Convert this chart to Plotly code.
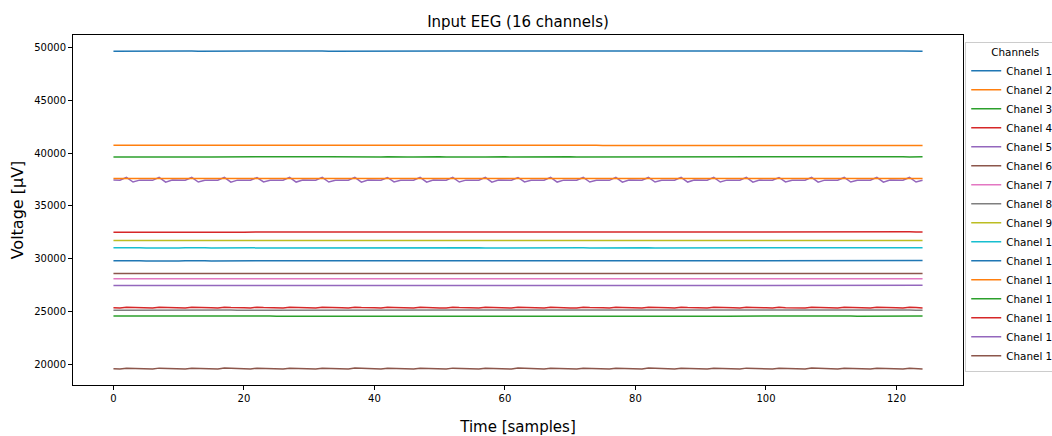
import plotly.graph_objects as go

# ---- data: 16 EEG channels, 125 samples each (µV) ----
ch1 = [49615, 49620, 49626, 49618, 49612, 49620, 49628, 49622, 49614, 49618,
       49625, 49630, 49622, 49616, 49620, 49627, 49632, 49624, 49618, 49622,
       49628, 49634, 49626, 49619, 49623, 49630, 49636, 49628, 49620, 49624,
       49631, 49637, 49629, 49621, 49625, 49632, 49638, 49630, 49622, 49626,
       49633, 49640, 49632, 49624, 49628, 49635, 49641, 49633, 49625, 49629,
       49636, 49642, 49634, 49626, 49630, 49636, 49642, 49634, 49626, 49630,
       49636, 49641, 49633, 49625, 49629, 49635, 49640, 49632, 49624, 49628,
       49634, 49639, 49631, 49623, 49627, 49633, 49638, 49630, 49622, 49626,
       49632, 49637, 49629, 49621, 49625, 49631, 49636, 49628, 49620, 49624,
       49630, 49635, 49627, 49619, 49623, 49629, 49634, 49626, 49618, 49622,
       49628, 49633, 49625, 49617, 49621, 49627, 49632, 49624, 49616, 49620,
       49626, 49631, 49623, 49615, 49619, 49625, 49630, 49622, 49614, 49618,
       49624, 49629, 49621, 49613, 49617]
ch2 = [40745, 40742, 40738, 40741, 40746, 40743, 40739, 40742, 40747, 40744,
       40740, 40737, 40741, 40745, 40742, 40738, 40740, 40744, 40741, 40737,
       40739, 40743, 40740, 40736, 40738, 40742, 40739, 40735, 40737, 40741,
       40738, 40734, 40736, 40740, 40737, 40733, 40735, 40739, 40736, 40732,
       40734, 40738, 40735, 40731, 40733, 40737, 40734, 40730, 40732, 40736,
       40733, 40729, 40731, 40735, 40732, 40728, 40730, 40734, 40731, 40727,
       40729, 40733, 40730, 40726, 40728, 40732, 40729, 40725, 40727, 40731,
       40728, 40724, 40726, 40730, 40727, 40723, 40725, 40729, 40726, 40722,
       40724, 40728, 40725, 40721, 40723, 40727, 40724, 40720, 40722, 40726,
       40723, 40719, 40721, 40725, 40722, 40718, 40720, 40724, 40721, 40717,
       40719, 40723, 40720, 40716, 40718, 40722, 40719, 40715, 40717, 40721,
       40718, 40714, 40716, 40720, 40717, 40713, 40715, 40719, 40716, 40712,
       40714, 40718, 40715, 40711, 40713]
ch3 = [39630, 39645, 39660, 39650, 39632, 39625, 39640, 39658, 39652, 39635,
       39622, 39638, 39656, 39654, 39637, 39624, 39636, 39655, 39657, 39640,
       39626, 39634, 39652, 39658, 39643, 39628, 39632, 39650, 39660, 39646,
       39630, 39630, 39648, 39660, 39648, 39632, 39628, 39645, 39659, 39650,
       39634, 39627, 39642, 39658, 39652, 39636, 39626, 39640, 39657, 39654,
       39638, 39625, 39638, 39655, 39656, 39640, 39625, 39636, 39653, 39657,
       39642, 39626, 39634, 39651, 39658, 39644, 39627, 39632, 39649, 39659,
       39646, 39629, 39630, 39647, 39659, 39648, 39631, 39629, 39645, 39658,
       39650, 39633, 39628, 39643, 39657, 39651, 39635, 39627, 39641, 39656,
       39653, 39637, 39626, 39639, 39655, 39654, 39639, 39625, 39637, 39653,
       39655, 39641, 39626, 39635, 39651, 39656, 39643, 39627, 39633, 39649,
       39657, 39645, 39628, 39631, 39647, 39658, 39647, 39630, 39630, 39645,
       39658, 39649, 39632, 39629, 39643]
ch4 = [32528, 32532, 32535, 32530, 32526, 32529, 32534, 32536, 32531, 32527,
       32530, 32535, 32537, 32532, 32528, 32531, 32536, 32538, 32533, 32529,
       32532, 32537, 32539, 32534, 32530, 32533, 32538, 32540, 32535, 32531,
       32534, 32539, 32541, 32536, 32532, 32535, 32540, 32542, 32537, 32533,
       32536, 32541, 32543, 32538, 32534, 32537, 32542, 32544, 32539, 32535,
       32538, 32543, 32545, 32540, 32536, 32539, 32544, 32546, 32541, 32537,
       32540, 32545, 32547, 32542, 32538, 32541, 32546, 32548, 32543, 32539,
       32542, 32547, 32549, 32544, 32540, 32543, 32548, 32550, 32545, 32541,
       32544, 32549, 32551, 32546, 32542, 32545, 32550, 32552, 32547, 32543,
       32546, 32551, 32553, 32548, 32544, 32547, 32552, 32554, 32549, 32545,
       32548, 32553, 32555, 32550, 32546, 32549, 32554, 32556, 32551, 32547,
       32550, 32555, 32557, 32552, 32548, 32551, 32556, 32558, 32553, 32549,
       32552, 32557, 32559, 32554, 32550]
ch5 = [37450, 37430, 37700, 37260, 37440, 37455, 37425, 37705, 37255, 37445,
       37448, 37432, 37695, 37262, 37438, 37452, 37428, 37710, 37250, 37442,
       37450, 37435, 37688, 37268, 37435, 37456, 37426, 37702, 37258, 37446,
       37449, 37431, 37697, 37264, 37439, 37453, 37429, 37708, 37252, 37443,
       37451, 37433, 37692, 37266, 37437, 37454, 37427, 37704, 37256, 37444,
       37448, 37430, 37699, 37261, 37440, 37455, 37426, 37707, 37254, 37445,
       37450, 37434, 37690, 37269, 37436, 37453, 37428, 37703, 37257, 37442,
       37449, 37431, 37696, 37263, 37438, 37454, 37425, 37709, 37251, 37446,
       37451, 37432, 37693, 37265, 37437, 37452, 37429, 37701, 37259, 37443,
       37448, 37433, 37698, 37260, 37441, 37456, 37427, 37706, 37253, 37444,
       37450, 37430, 37691, 37267, 37436, 37453, 37428, 37704, 37256, 37442,
       37449, 37432, 37695, 37262, 37439, 37455, 37426, 37708, 37252, 37445,
       37451, 37431, 37694, 37264, 37438]
ch6 = [28632, 28628, 28625, 28630, 28636, 28634, 28629, 28626, 28631, 28637,
       28635, 28630, 28627, 28632, 28638, 28636, 28631, 28627, 28630, 28636,
       28637, 28632, 28628, 28629, 28635, 28638, 28633, 28628, 28628, 28633,
       28638, 28635, 28629, 28627, 28632, 28637, 28636, 28630, 28627, 28631,
       28636, 28637, 28631, 28627, 28630, 28635, 28638, 28632, 28628, 28629,
       28634, 28638, 28633, 28628, 28628, 28633, 28637, 28634, 28629, 28627,
       28632, 28636, 28635, 28630, 28627, 28631, 28635, 28636, 28631, 28627,
       28630, 28634, 28637, 28632, 28628, 28629, 28633, 28637, 28633, 28628,
       28628, 28632, 28636, 28634, 28629, 28627, 28631, 28635, 28635, 28630,
       28627, 28630, 28634, 28636, 28631, 28627, 28629, 28633, 28637, 28632,
       28628, 28628, 28632, 28636, 28633, 28629, 28627, 28631, 28635, 28634,
       28630, 28627, 28630, 28634, 28635, 28631, 28627, 28629, 28633, 28636,
       28632, 28628, 28628, 28632, 28635]
ch7 = [28128, 28131, 28134, 28130, 28126, 28129, 28133, 28135, 28131, 28127,
       28128, 28132, 28135, 28132, 28128, 28127, 28131, 28134, 28133, 28129,
       28126, 28130, 28134, 28134, 28130, 28126, 28129, 28133, 28135, 28131,
       28127, 28128, 28132, 28135, 28132, 28128, 28127, 28131, 28134, 28133,
       28129, 28126, 28130, 28134, 28134, 28130, 28126, 28129, 28133, 28135,
       28131, 28127, 28128, 28132, 28135, 28132, 28128, 28127, 28131, 28134,
       28133, 28129, 28126, 28130, 28134, 28134, 28130, 28126, 28129, 28133,
       28135, 28131, 28127, 28128, 28132, 28135, 28132, 28128, 28127, 28131,
       28134, 28133, 28129, 28126, 28130, 28134, 28134, 28130, 28126, 28129,
       28133, 28135, 28131, 28127, 28128, 28132, 28135, 28132, 28128, 28127,
       28131, 28134, 28133, 28129, 28126, 28130, 28134, 28134, 28130, 28126,
       28129, 28133, 28135, 28131, 28127, 28128, 28132, 28135, 28132, 28128,
       28127, 28131, 28134, 28133, 28129]
ch8 = [25168, 25172, 25175, 25171, 25166, 25169, 25174, 25176, 25170, 25165,
       25168, 25173, 25176, 25172, 25167, 25167, 25172, 25175, 25173, 25168,
       25166, 25171, 25175, 25174, 25169, 25165, 25170, 25174, 25175, 25170,
       25166, 25169, 25173, 25176, 25171, 25166, 25168, 25173, 25176, 25172,
       25167, 25167, 25172, 25175, 25173, 25168, 25166, 25171, 25175, 25174,
       25169, 25165, 25170, 25174, 25175, 25170, 25166, 25169, 25173, 25176,
       25171, 25166, 25168, 25173, 25176, 25172, 25167, 25167, 25172, 25175,
       25173, 25168, 25166, 25171, 25175, 25174, 25169, 25165, 25170, 25174,
       25175, 25170, 25166, 25169, 25173, 25176, 25171, 25166, 25168, 25173,
       25176, 25172, 25167, 25167, 25172, 25175, 25173, 25168, 25166, 25171,
       25175, 25174, 25169, 25165, 25170, 25174, 25175, 25170, 25166, 25169,
       25173, 25176, 25171, 25166, 25168, 25173, 25176, 25172, 25167, 25167,
       25172, 25175, 25173, 25168, 25166]
ch9 = [31744, 31747, 31749, 31745, 31741, 31743, 31748, 31750, 31746, 31742,
       31743, 31747, 31750, 31747, 31743, 31742, 31746, 31749, 31748, 31744,
       31741, 31745, 31749, 31749, 31745, 31741, 31744, 31748, 31750, 31746,
       31742, 31743, 31747, 31750, 31747, 31743, 31742, 31746, 31749, 31748,
       31744, 31741, 31745, 31749, 31749, 31745, 31741, 31744, 31748, 31750,
       31746, 31742, 31743, 31747, 31750, 31747, 31743, 31742, 31746, 31749,
       31748, 31744, 31741, 31745, 31749, 31749, 31745, 31741, 31744, 31748,
       31750, 31746, 31742, 31743, 31747, 31750, 31747, 31743, 31742, 31746,
       31749, 31748, 31744, 31741, 31745, 31749, 31749, 31745, 31741, 31744,
       31748, 31750, 31746, 31742, 31743, 31747, 31750, 31747, 31743, 31742,
       31746, 31749, 31748, 31744, 31741, 31745, 31749, 31749, 31745, 31741,
       31744, 31748, 31750, 31746, 31742, 31743, 31747, 31750, 31747, 31743,
       31742, 31746, 31749, 31748, 31744]
ch10 = [31050, 31062, 31075, 31066, 31048, 31040, 31052, 31072, 31070, 31053,
        31041, 31047, 31068, 31074, 31058, 31043, 31044, 31063, 31076, 31063,
        31046, 31041, 31058, 31075, 31068, 31050, 31040, 31053, 31073, 31071,
        31054, 31041, 31048, 31069, 31074, 31058, 31043, 31045, 31064, 31076,
        31062, 31045, 31042, 31059, 31075, 31067, 31049, 31040, 31054, 31073,
        31071, 31053, 31041, 31049, 31070, 31074, 31057, 31042, 31045, 31065,
        31076, 31061, 31045, 31042, 31060, 31075, 31066, 31048, 31040, 31055,
        31074, 31070, 31052, 31041, 31050, 31071, 31073, 31056, 31042, 31046,
        31066, 31076, 31060, 31044, 31043, 31061, 31075, 31065, 31047, 31040,
        31056, 31074, 31069, 31051, 31040, 31051, 31072, 31073, 31055, 31042,
        31047, 31067, 31075, 31059, 31044, 31043, 31062, 31076, 31064, 31046,
        31041, 31057, 31075, 31068, 31050, 31040, 31052, 31072, 31072, 31054,
        31041, 31048, 31068, 31074, 31058]
ch11 = [29825, 29838, 29848, 29840, 29822, 29814, 29826, 29845, 29846, 29829,
        29815, 29820, 29841, 29849, 29834, 29817, 29817, 29836, 29850, 29840,
        29821, 29814, 29830, 29848, 29845, 29826, 29814, 29824, 29845, 29848,
        29831, 29816, 29819, 29840, 29850, 29836, 29818, 29816, 29834, 29850,
        29842, 29823, 29814, 29828, 29847, 29846, 29828, 29815, 29822, 29843,
        29849, 29833, 29816, 29818, 29838, 29850, 29838, 29819, 29815, 29832,
        29849, 29843, 29824, 29814, 29826, 29846, 29847, 29830, 29815, 29821,
        29842, 29849, 29835, 29817, 29817, 29837, 29850, 29839, 29820, 29814,
        29831, 29849, 29844, 29825, 29814, 29825, 29845, 29847, 29831, 29816,
        29820, 29840, 29850, 29836, 29818, 29816, 29835, 29850, 29841, 29822,
        29814, 29829, 29848, 29845, 29827, 29814, 29823, 29844, 29848, 29832,
        29816, 29819, 29839, 29850, 29837, 29818, 29815, 29833, 29849, 29842,
        29823, 29814, 29827, 29847, 29846]
ch12 = [37592, 37589, 37586, 37590, 37594, 37592, 37588, 37587, 37591, 37595,
        37593, 37589, 37586, 37589, 37594, 37594, 37590, 37586, 37588, 37593,
        37595, 37591, 37587, 37587, 37592, 37595, 37592, 37588, 37586, 37590,
        37594, 37593, 37589, 37586, 37589, 37593, 37594, 37590, 37587, 37588,
        37592, 37595, 37591, 37587, 37587, 37591, 37595, 37592, 37588, 37586,
        37590, 37594, 37593, 37589, 37586, 37589, 37593, 37594, 37590, 37587,
        37588, 37592, 37595, 37591, 37587, 37587, 37591, 37595, 37592, 37588,
        37586, 37590, 37594, 37593, 37589, 37586, 37589, 37593, 37594, 37590,
        37587, 37588, 37592, 37595, 37591, 37587, 37587, 37591, 37595, 37592,
        37588, 37586, 37590, 37594, 37593, 37589, 37586, 37589, 37593, 37594,
        37590, 37587, 37588, 37592, 37595, 37591, 37587, 37587, 37591, 37595,
        37592, 37588, 37586, 37590, 37594, 37593, 37589, 37586, 37589, 37593,
        37594, 37590, 37587, 37588, 37592]
ch13 = [24602, 24605, 24608, 24604, 24600, 24601, 24606, 24609, 24605, 24601,
        24600, 24604, 24608, 24607, 24602, 24599, 24603, 24607, 24608, 24603,
        24600, 24602, 24606, 24609, 24604, 24600, 24601, 24605, 24609, 24606,
        24601, 24600, 24604, 24608, 24607, 24602, 24599, 24603, 24607, 24608,
        24603, 24600, 24602, 24606, 24609, 24604, 24600, 24601, 24605, 24609,
        24606, 24601, 24600, 24604, 24608, 24607, 24602, 24599, 24603, 24607,
        24608, 24603, 24600, 24602, 24606, 24609, 24604, 24600, 24601, 24605,
        24609, 24606, 24601, 24600, 24604, 24608, 24607, 24602, 24599, 24603,
        24607, 24608, 24603, 24600, 24602, 24606, 24609, 24604, 24600, 24601,
        24605, 24609, 24606, 24601, 24600, 24604, 24608, 24607, 24602, 24599,
        24603, 24607, 24608, 24603, 24600, 24602, 24606, 24609, 24604, 24600,
        24601, 24605, 24609, 24606, 24601, 24600, 24604, 24608, 24607, 24602,
        24599, 24603, 24607, 24608, 24603]
ch14 = [25382, 25368, 25442, 25408, 25374, 25385, 25366, 25438, 25412, 25371,
        25380, 25370, 25445, 25405, 25376, 25384, 25365, 25440, 25410, 25373,
        25381, 25369, 25443, 25407, 25375, 25386, 25367, 25437, 25413, 25370,
        25379, 25371, 25444, 25404, 25377, 25383, 25366, 25441, 25409, 25372,
        25382, 25368, 25439, 25411, 25374, 25385, 25365, 25446, 25406, 25376,
        25380, 25370, 25440, 25410, 25373, 25384, 25367, 25442, 25408, 25375,
        25381, 25369, 25438, 25412, 25371, 25386, 25366, 25444, 25405, 25377,
        25379, 25371, 25441, 25409, 25372, 25383, 25368, 25439, 25411, 25374,
        25382, 25365, 25445, 25406, 25376, 25385, 25370, 25440, 25410, 25373,
        25380, 25367, 25443, 25407, 25375, 25384, 25369, 25437, 25413, 25370,
        25381, 25371, 25444, 25404, 25377, 25386, 25366, 25441, 25409, 25372,
        25379, 25368, 25439, 25411, 25374, 25383, 25365, 25446, 25406, 25376,
        25382, 25370, 25440, 25410, 25373]
ch15 = [27498, 27502, 27505, 27501, 27496, 27497, 27502, 27506, 27503, 27498,
        27496, 27500, 27505, 27504, 27499, 27495, 27499, 27504, 27505, 27500,
        27496, 27498, 27503, 27506, 27502, 27497, 27497, 27501, 27506, 27504,
        27499, 27495, 27499, 27504, 27505, 27500, 27496, 27498, 27503, 27506,
        27502, 27497, 27497, 27501, 27506, 27504, 27499, 27495, 27499, 27504,
        27505, 27500, 27496, 27498, 27503, 27506, 27502, 27497, 27497, 27501,
        27506, 27504, 27499, 27495, 27499, 27504, 27505, 27500, 27496, 27498,
        27503, 27506, 27502, 27497, 27497, 27501, 27506, 27504, 27499, 27495,
        27499, 27504, 27505, 27500, 27496, 27498, 27503, 27506, 27502, 27497,
        27497, 27501, 27506, 27504, 27499, 27495, 27499, 27504, 27505, 27500,
        27496, 27498, 27503, 27506, 27502, 27497, 27497, 27501, 27506, 27504,
        27499, 27495, 27499, 27504, 27505, 27500, 27496, 27498, 27503, 27506,
        27502, 27497, 27497, 27501, 27506]
ch16 = [19624, 19606, 19688, 19662, 19614, 19627, 19603, 19692, 19658, 19617,
        19622, 19608, 19686, 19664, 19612, 19628, 19602, 19694, 19656, 19618,
        19625, 19605, 19689, 19661, 19615, 19626, 19604, 19691, 19659, 19616,
        19623, 19607, 19687, 19663, 19613, 19629, 19601, 19693, 19657, 19619,
        19624, 19606, 19690, 19660, 19614, 19627, 19603, 19688, 19662, 19617,
        19622, 19608, 19692, 19658, 19612, 19628, 19602, 19686, 19664, 19618,
        19625, 19605, 19694, 19656, 19615, 19626, 19604, 19689, 19661, 19616,
        19623, 19607, 19691, 19659, 19613, 19629, 19601, 19687, 19663, 19619,
        19624, 19606, 19693, 19657, 19614, 19627, 19603, 19690, 19660, 19617,
        19622, 19608, 19688, 19662, 19612, 19628, 19602, 19692, 19658, 19618,
        19625, 19605, 19686, 19664, 19615, 19626, 19604, 19694, 19656, 19616,
        19623, 19607, 19689, 19661, 19613, 19629, 19601, 19691, 19659, 19619,
        19624, 19606, 19687, 19663, 19614]

channels = [ch1, ch2, ch3, ch4, ch5, ch6, ch7, ch8,
            ch9, ch10, ch11, ch12, ch13, ch14, ch15, ch16]
channel_names = ["Chanel %d" % (i + 1) for i in range(16)]
x_ticks = [0, 20, 40, 60, 80, 100, 120]
y_ticks = [20000, 25000, 30000, 35000, 40000, 45000, 50000]

palette = ["#1f77b4", "#ff7f0e", "#2ca02c", "#d62728", "#9467bd",
           "#8c564b", "#e377c2", "#7f7f7f", "#bcbd22", "#17becf"]

FONT = "DejaVu Sans"

fig = go.Figure()
for i, (name, values) in enumerate(zip(channel_names, channels)):
    fig.add_trace(go.Scatter(
        x=list(range(len(values))), y=values, mode="lines", name=name,
        line=dict(color=palette[i % len(palette)], width=1.5),
    ))

# 5% padding on both axes
n_max = max(len(v) for v in channels) - 1
x_pad = 0.05 * n_max
y_lo = min(min(v) for v in channels)
y_hi = max(max(v) for v in channels)
y_pad = 0.05 * (y_hi - y_lo)

axis_common = dict(
    showgrid=False, zeroline=False, showline=True, mirror=True,
    linecolor="black", linewidth=1, ticks="outside", ticklen=4,
    tickcolor="black", tickwidth=1,
    tickfont=dict(family=FONT, size=10, color="black"),
)

fig.update_layout(
    width=1052, height=436,
    margin=dict(l=73, r=89, t=35, b=51, autoexpand=False),
    paper_bgcolor="white", plot_bgcolor="white",
    font=dict(family=FONT, color="black"),
    title=dict(text="Input EEG (16 channels)", x=0.5, xref="paper",
               y=1 - 22 / 436, yref="container", yanchor="middle",
               font=dict(family=FONT, size=15, color="black")),
    xaxis=dict(range=[-x_pad, n_max + x_pad], tickvals=x_ticks,
               title=dict(text="Time [samples]", standoff=19,
                          font=dict(family=FONT, size=15, color="black")),
               **axis_common),
    yaxis=dict(range=[y_lo - y_pad, y_hi + y_pad], tickvals=y_ticks,
               tickformat="d",
               title=dict(text="Voltage [µV]", standoff=6,
                          font=dict(family=FONT, size=16, color="black")),
               **axis_common),
    legend=dict(
        title=dict(text="Channels", side="top center",
                   font=dict(family=FONT, size=10.4, color="black")),
        font=dict(family=FONT, size=10.4, color="black"),
        x=1.0025, y=0.981, xanchor="left", yanchor="top",
        bordercolor="#cccccc", borderwidth=1, bgcolor="rgba(255,255,255,0.8)",
        tracegroupgap=0,
    ),
)

fig.write_html("out.html")
